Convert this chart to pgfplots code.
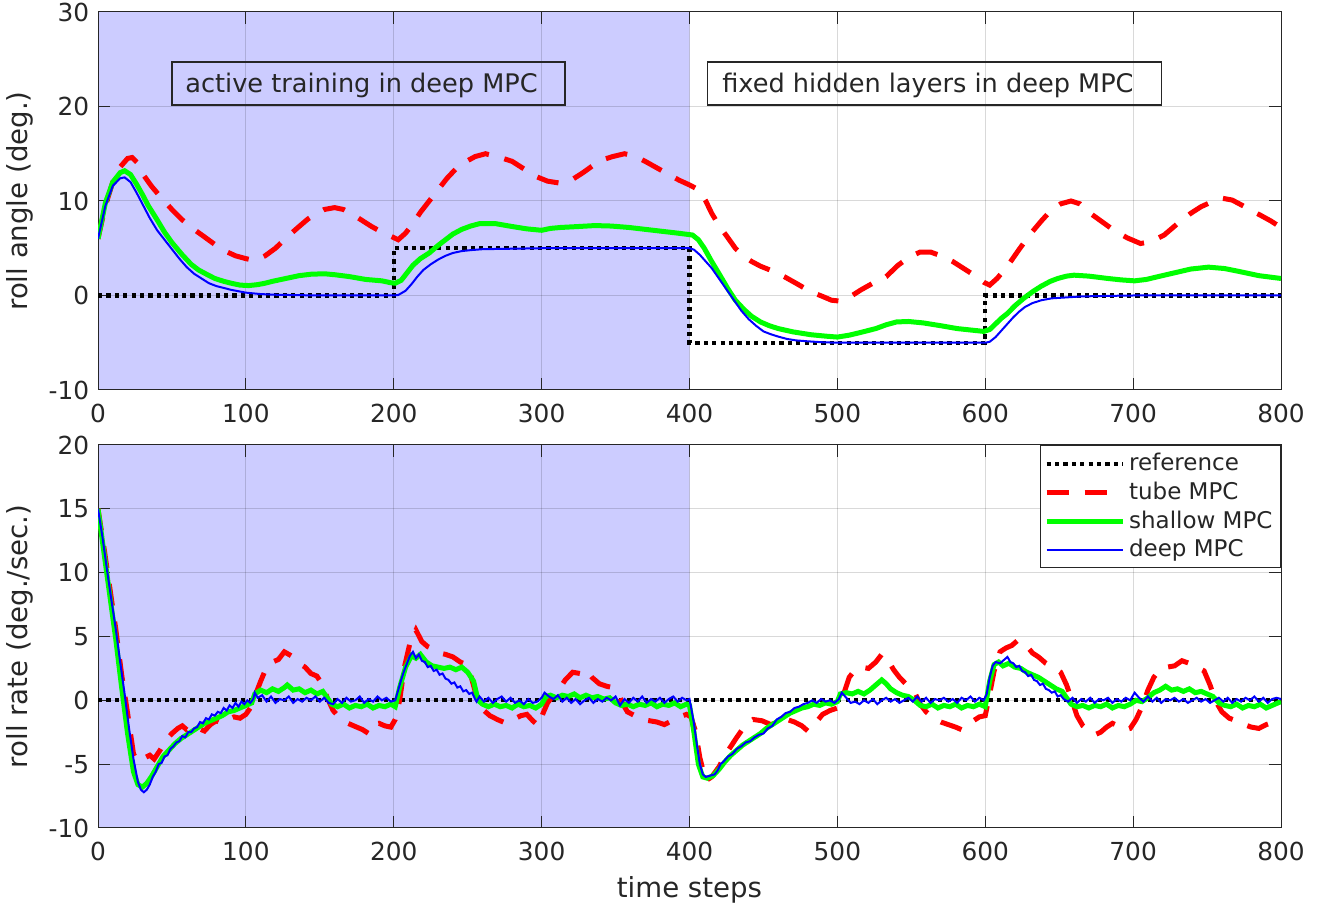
\documentclass[border=0pt]{standalone}
\usepackage{fontspec}
\setmainfont{DejaVu Sans}
\usepackage{pgfplots}
\pgfplotsset{compat=1.18}
\definecolor{axgray}{RGB}{38,38,38}
\definecolor{shadeblue}{RGB}{204,204,255}
\newcommand{\ticksz}{\fontsize{12.4}{14}\selectfont}
\newcommand{\labsz}{\fontsize{13.8}{16}\selectfont}
\newcommand{\boxsz}{\fontsize{12.8}{15}\selectfont}
\newcommand{\legsz}{\fontsize{11.5}{13}\selectfont}

\pgfplotsset{
  mpc/.style={
    set layers=standard,
    scale only axis,
    width=591.5pt,
    xmin=0, xmax=800,
    xtick={0,100,...,800},
    tick pos=both, tick align=inside,
    grid=major,
    major grid style={black, opacity=0.15, line width=0.5pt},
    axis line style={axgray, line width=0.5pt},
    every tick/.style={axgray, line width=0.5pt},
    major tick length=6pt,
    tick label style={font=\ticksz, text=axgray},
    xticklabel style={yshift=-3.4pt},
    yticklabel style={xshift=-0.9pt},
    label style={font=\labsz, text=axgray, inner sep=0pt},
    ylabel style={at={(axis description cs:-0.054,0.5)}, anchor=south},
    /pgf/number format/assume math mode=true,
  },
  refline/.style={black, line width=2.1pt, dash pattern=on 2.1pt off 2.1pt},
  tubeline/.style={red, line width=2.5pt, dash pattern=on 11pt off 8pt},
  shallowline/.style={green, line width=2.5pt},
  deepline/.style={blue, line width=1pt},
}

\begin{document}
\begin{tikzpicture}

% ---------------- roll angle ----------------
\begin{axis}[mpc,
  at={(0pt,0pt)}, anchor=south west,
  height=189pt,
  ymin=-10, ymax=30, ytick={-10,0,...,30},
  ylabel={roll angle (deg.)},
]
\addplot[fill=shadeblue, draw=none, forget plot, on layer=axis background]
  coordinates {(0,-10) (400,-10) (400,30) (0,30)} \closedcycle;

\addplot[refline] coordinates {
  (0,0) (200,0) (200,5) (400,5) (400,-5) (600,-5) (600,0) (800,0)};

\addplot[tubeline] coordinates {
  (0,6) (5,9.5) (10,12.0) (15,13.6) (20,14.5) (23,14.6) (27,14.0) (31,12.7)
  (36,11.6) (43,10.3) (50,9.1) (57,8.0) (64,7.1) (72,6.2) (79,5.4) (86,4.7)
  (93,4.2) (100,3.9) (106,3.7) (113,4.2) (120,5.0) (128,6.2) (136,7.3)
  (142,8.1) (147,8.6) (153,9.1) (160,9.3) (166,9.1) (172,8.6) (178,8.0)
  (185,7.3) (192,6.7) (199,6.2) (203,5.9) (208,6.6) (213,7.6) (218,8.8)
  (224,10.0) (230,11.2) (236,12.4) (242,13.4) (248,14.1) (255,14.7)
  (262,15.0) (270,14.7) (280,14.2) (288,13.4) (296,12.6) (304,12.1)
  (312,11.9) (321,12.3) (328,13.0) (336,13.9) (342,14.4) (348,14.7)
  (356,15.0) (362,14.8) (370,14.2) (378,13.5) (386,12.8) (393,12.2)
  (400,11.7) (406,11.2) (411,10.0) (415,8.7) (420,7.4) (426,6.1) (431,5.0)
  (437,4.1) (442,3.6) (448,3.1) (456,2.6) (464,2.0) (472,1.3) (482,0.4)
  (490,-0.1) (496,-0.5) (502,-0.6) (508,-0.2) (516,0.6) (524,1.3) (533,2.0)
  (541,3.2) (549,4.1) (556,4.6) (563,4.6) (570,4.2) (578,3.6) (586,2.8)
  (594,2.0) (599,1.4) (603,1.1) (608,1.8) (615,3.1) (623,4.9) (631,6.6)
  (638,7.9) (645,9.1) (651,9.7) (658,10.0) (664,9.7) (671,8.7) (679,7.8)
  (687,6.9) (696,6.1) (705,5.5) (712,5.7) (721,6.4) (730,7.6) (739,8.7)
  (746,9.4) (753,9.9) (760,10.3) (767,10.1) (773,9.6) (780,9.0) (786,8.5)
  (793,7.9) (800,7.2)};

\addplot[shallowline] coordinates {
  (0,6) (5,9.8) (10,12.0) (15,13.0) (18,13.2) (22,12.8) (26,11.8) (30,10.7)
  (34,9.5) (40,8.0) (45,6.7) (50,5.6) (57,4.3) (63,3.3) (68,2.7) (74,2.2)
  (79,1.8) (85,1.5) (90,1.3) (96,1.1) (102,1.05) (108,1.15) (113,1.3)
  (118,1.5) (124,1.7) (130,1.9) (136,2.1) (144,2.25) (153,2.3) (160,2.2)
  (170,2.0) (181,1.7) (192,1.55) (198,1.35) (201,1.3) (205,1.6) (209,2.4)
  (213,3.2) (218,3.9) (224,4.5) (230,5.3) (235,5.9) (240,6.5) (246,7.0)
  (252,7.35) (258,7.6) (269,7.6) (280,7.3) (290,7.05) (300,6.9) (306,7.1)
  (313,7.2) (325,7.3) (336,7.4) (347,7.35) (359,7.2) (370,7.0) (381,6.8)
  (392,6.6) (402,6.4) (406,5.9) (410,5.0) (415,3.6) (420,2.3) (426,0.7)
  (431,-0.5) (437,-1.5) (442,-2.2) (448,-2.8) (454,-3.2) (460,-3.5)
  (470,-3.85) (482,-4.15) (492,-4.3) (500,-4.4) (508,-4.2) (516,-3.9)
  (526,-3.5) (533,-3.1) (540,-2.8) (548,-2.75) (558,-2.9) (570,-3.2)
  (581,-3.5) (590,-3.65) (599,-3.8) (603,-3.6) (607,-3.0) (611,-2.4)
  (615,-1.9) (620,-1.1) (626,-0.3) (632,0.4) (638,1.0) (644,1.5) (649,1.8)
  (655,2.05) (660,2.15) (670,2.05) (683,1.8) (692,1.65) (701,1.55)
  (709,1.7) (717,2.0) (728,2.4) (739,2.8) (751,3.0) (762,2.85) (773,2.5)
  (785,2.1) (800,1.8)};

\addplot[deepline] coordinates {
  (0,6) (5,9.5) (10,11.6) (15,12.4) (18,12.5) (22,12.0) (26,10.9) (30,9.7)
  (35,8.2) (40,6.9) (45,5.9) (50,4.9) (55,3.9) (60,3.0) (65,2.3) (70,1.8)
  (75,1.3) (80,1.0) (85,0.8) (90,0.6) (95,0.45) (100,0.3) (110,0.15)
  (120,0.08) (130,0.05) (150,0.0) (200,0.0) (203,0.05) (208,0.5) (212,1.2)
  (216,2.0) (220,2.7) (225,3.3) (230,3.8) (235,4.2) (240,4.5) (246,4.7)
  (252,4.8) (260,4.9) (280,4.95) (300,5.0) (400,5.0) (403,4.85) (407,4.3)
  (411,3.6) (415,2.9) (419,2.0) (423,1.1) (427,0.2) (431,-0.7) (435,-1.6)
  (440,-2.5) (445,-3.2) (450,-3.8) (455,-4.1) (460,-4.35) (466,-4.6)
  (472,-4.75) (480,-4.85) (490,-4.95) (500,-5.0) (600,-5.0) (603,-4.9)
  (607,-4.4) (611,-3.7) (615,-3.0) (619,-2.3) (623,-1.7) (627,-1.2)
  (632,-0.8) (638,-0.5) (645,-0.3) (655,-0.2) (665,-0.1) (680,-0.05)
  (700,0) (800,0)};

\draw[axgray, line width=0.6pt] (axis cs:50,20.16) rectangle (axis cs:315.8,24.7);
\node[anchor=base west, inner sep=0pt, font=\boxsz, text=axgray]
  at (axis cs:58.8,21.43) {active training in deep MPC};
\draw[axgray, line width=0.6pt] (axis cs:412.4,20.16) rectangle (axis cs:719.4,24.7);
\node[anchor=base west, inner sep=0pt, font=\boxsz, text=axgray]
  at (axis cs:421.9,21.43) {fixed hidden layers in deep MPC};
\end{axis}

% ---------------- roll rate ----------------
\begin{axis}[mpc,
  at={(0pt,-27.5pt)}, anchor=north west,
  height=191.5pt,
  ymin=-10, ymax=20, ytick={-10,-5,...,20},
  ylabel={roll rate (deg./sec.)},
  xlabel={time steps},
  xlabel style={at={(axis description cs:0.5,0)}, anchor=north, yshift=-24pt},
  legend style={at={(1,1)}, anchor=north east, draw=axgray, line width=0.5pt,
    fill=white, font=\legsz, text=axgray, inner xsep=2pt, inner ysep=2pt,
    row sep=0.1pt, cells={anchor=west}},
  legend image code/.code={\draw[#1] (0pt,0pt) -- (38pt,0pt);},
]
\addplot[fill=shadeblue, draw=none, forget plot, on layer=axis background]
  coordinates {(0,-10) (400,-10) (400,20) (0,20)} \closedcycle;

\addplot[refline] coordinates {(0,0) (800,0)};
\addlegendentry{reference}

\addplot[tubeline] coordinates {
  (0,15) (4,12) (8,8.8) (12,5.6) (16,2.0) (20,-1.0) (24,-4.2) (27,-4.8)
  (30,-4.6) (35,-4.3) (38,-4.6) (42,-3.9) (46,-3.1) (50,-2.6) (54,-2.2)
  (57,-2.0) (60,-2.3) (64,-2.0) (68,-2.2) (72,-2.4) (76,-1.9) (80,-1.6)
  (84,-1.8) (88,-1.5) (92,-1.3) (96,-1.4) (100,-1.1) (103,-0.6) (106,0.3)
  (110,1.5) (114,2.6) (118,3.0) (122,3.2) (126,3.8) (129,3.6) (132,3.4)
  (136,2.9) (140,2.6) (144,2.1) (148,1.9) (152,1.2) (155,0.2) (159,-0.8)
  (163,-1.3) (167,-1.7) (171,-1.9) (175,-2.1) (179,-2.3) (183,-2.6)
  (186,-1.9) (190,-1.8) (194,-2.0) (198,-2.1) (201,-1.5) (204,0.0)
  (207,2.5) (211,4.5) (215,5.5) (219,4.6) (223,4.2) (227,4.0) (231,3.7)
  (235,3.6) (240,3.4) (245,3.0) (249,2.8) (252,2.0) (256,0.3) (260,-0.7)
  (265,-1.2) (270,-1.5) (276,-1.8) (281,-1.5) (286,-1.2) (290,-1.1)
  (294,-1.6) (298,-2.0) (301,-1.0) (304,-0.2) (308,0.4) (312,0.9)
  (316,1.6) (321,2.2) (326,2.1) (330,2.4) (334,1.8) (339,1.3) (344,1.1)
  (348,1.0) (352,0.5) (355,-0.3) (358,-0.9) (363,-1.2) (368,-1.5)
  (373,-1.6) (378,-1.7) (383,-1.9) (388,-1.6) (393,-1.3) (398,-1.1)
  (401,-1.3) (404,-2.4) (407,-4.5) (411,-6.3) (415,-6.0) (420,-5.2)
  (424,-4.3) (428,-3.6) (432,-2.9) (438,-1.9) (443,-1.5) (449,-1.6)
  (455,-1.9) (460,-1.7) (466,-1.5) (471,-1.7) (476,-2.0) (480,-2.4)
  (485,-1.8) (490,-1.1) (495,-0.8) (500,-0.6) (504,0.4) (508,1.8)
  (512,2.4) (516,2.6) (521,2.5) (526,3.0) (530,3.6) (534,3.2) (538,2.4)
  (542,1.8) (547,1.2) (552,0.7) (556,-0.3) (560,-0.9) (565,-1.4)
  (570,-1.7) (575,-1.9) (580,-2.1) (584,-2.3) (588,-1.9) (592,-1.6)
  (596,-1.3) (600,-1.2) (603,0.5) (606,2.3) (610,3.8) (614,4.1) (618,4.3)
  (622,4.7) (627,4.4) (632,3.7) (636,3.4) (641,2.9) (646,2.6) (651,2.2)
  (655,1.2) (658,0.2) (662,-1.2) (666,-2.0) (670,-2.4) (674,-2.7)
  (678,-2.5) (682,-2.1) (686,-1.8) (690,-2.0) (694,-2.3) (698,-2.2)
  (702,-1.5) (706,-0.5) (710,0.8) (714,1.8) (718,2.4) (723,2.6) (728,2.7)
  (733,3.1) (738,2.9) (743,2.6) (748,2.3) (752,1.2) (756,-0.1) (760,-0.9)
  (765,-1.4) (770,-1.6) (775,-1.9) (780,-2.1) (785,-2.2) (790,-1.9)
  (795,-1.7) (800,-1.5)};
\addlegendentry{tube MPC}

\addplot[shallowline] coordinates {
  (0,15) (4,11.6) (8,8.2) (12,4.8) (16,1.0) (20,-2.6) (24,-5.6) (27,-6.6)
  (30,-6.8) (33,-6.5) (36,-6.0) (40,-5.2) (44,-4.4) (48,-3.9) (52,-3.4)
  (56,-3.0) (60,-2.7) (64,-2.4) (68,-2.1) (72,-1.8) (76,-1.6) (80,-1.4)
  (84,-1.2) (88,-0.9) (92,-0.8) (96,-0.6) (100,-0.4) (104,-0.2) (106,0.5)
  (110,0.8) (114,0.6) (118,0.9) (122,0.7) (126,1.0) (128,1.2) (132,0.8)
  (136,0.9) (140,0.6) (144,0.8) (148,0.5) (152,0.7) (155,0.2) (158,-0.3)
  (162,-0.5) (166,-0.3) (170,-0.6) (174,-0.4) (178,-0.5) (182,-0.3)
  (186,-0.6) (190,-0.4) (194,-0.5) (198,-0.3) (201,-0.5) (204,1.0)
  (208,2.6) (212,3.5) (215,3.3) (218,3.6) (222,3.0) (226,2.7) (230,2.6)
  (234,2.5) (238,2.6) (242,2.4) (246,2.6) (250,2.2) (254,1.5) (257,0.0)
  (260,-0.3) (264,-0.5) (268,-0.3) (272,-0.5) (276,-0.4) (280,-0.6)
  (284,-0.3) (288,-0.5) (292,-0.4) (296,-0.6) (300,-0.3) (303,0.3)
  (306,0.4) (310,0.2) (314,0.4) (318,0.3) (322,0.5) (326,0.2) (330,0.4)
  (334,0.2) (338,0.3) (342,0.1) (346,0.2) (350,-0.2) (354,-0.4) (358,-0.3)
  (362,-0.5) (366,-0.3) (370,-0.4) (374,-0.2) (378,-0.5) (382,-0.3)
  (386,-0.4) (390,-0.2) (394,-0.5) (398,-0.3) (400,-0.4) (403,-2.5)
  (406,-5.0) (409,-6.0) (412,-6.1) (416,-5.9) (420,-5.4) (424,-4.8)
  (428,-4.3) (432,-3.9) (436,-3.5) (440,-3.2) (444,-2.9) (448,-2.6)
  (452,-2.2) (456,-1.9) (460,-1.6) (464,-1.3) (468,-1.0) (472,-0.8)
  (476,-0.6) (480,-0.5) (484,-0.3) (488,-0.4) (492,-0.2) (496,-0.3)
  (500,-0.1) (502,0.5) (506,0.6) (510,0.5) (514,0.7) (518,0.5) (522,0.8)
  (526,1.2) (530,1.6) (533,1.3) (536,0.9) (540,0.6) (544,0.4) (548,0.3)
  (552,0.0) (556,-0.4) (560,-0.5) (564,-0.3) (568,-0.6) (572,-0.4)
  (576,-0.5) (580,-0.3) (584,-0.6) (588,-0.4) (592,-0.5) (596,-0.3)
  (600,-0.5) (603,1.5) (606,2.8) (609,3.0) (612,2.7) (616,2.9) (620,2.6)
  (624,2.5) (628,2.2) (632,2.0) (636,1.8) (640,1.5) (644,1.2) (648,0.9)
  (652,0.7) (655,0.2) (658,-0.3) (662,-0.5) (666,-0.4) (670,-0.6)
  (674,-0.4) (678,-0.5) (682,-0.3) (686,-0.6) (690,-0.4) (694,-0.5)
  (698,-0.3) (702,0.0) (706,-0.1) (710,0.2) (714,0.6) (718,0.8) (722,1.1)
  (726,0.8) (730,0.9) (734,0.7) (738,0.9) (742,0.6) (746,0.7) (750,0.5)
  (754,0.3) (758,-0.2) (762,-0.4) (766,-0.5) (770,-0.3) (774,-0.6)
  (778,-0.4) (782,-0.5) (786,-0.3) (790,-0.6) (794,-0.4) (798,-0.2)
  (800,-0.1)};
\addlegendentry{shallow MPC}

\addplot[deepline] coordinates {
  (0,15) (3,12.8) (6,10.3) (9,7.9) (12,5.6) (15,3.0) (18,0.5) (21,-2.2)
  (24,-4.6) (27,-6.4) (29,-7.0) (31,-7.2) (33,-7.0) (35,-6.6) (37,-6.0)
  (39,-5.6) (41,-5.0) (43,-4.9) (45,-4.4) (47,-4.3) (49,-3.8) (51,-3.6)
  (53,-3.3) (55,-3.2) (57,-2.8) (59,-2.9) (61,-2.5) (63,-2.5) (65,-2.2)
  (67,-2.1) (69,-1.7) (71,-1.8) (73,-1.4) (75,-1.5) (77,-1.1) (79,-1.2)
  (81,-0.9) (83,-1.0) (85,-0.6) (87,-0.8) (89,-0.4) (91,-0.6) (93,-0.2)
  (95,-0.5) (97,-0.1) (99,-0.3) (101,0.0) (103,-0.2) (105,0.1) (106,0.6)
  (108,0.2) (111,0.4) (114,-0.1) (117,0.3) (120,-0.2) (123,0.1) (126,0.0)
  (129,0.3) (132,-0.2) (135,0.1) (138,-0.1) (141,0.2) (144,0.0) (147,0.3)
  (150,-0.1) (153,0.2) (156,-0.2) (159,-0.3) (162,0.1) (165,-0.2)
  (168,0.2) (171,-0.1) (174,0.0) (177,0.3) (180,-0.2) (183,0.1) (186,-0.1)
  (189,0.3) (192,0.0) (195,0.2) (198,-0.1) (201,0.0) (203,0.8) (205,1.6)
  (207,2.3) (209,2.9) (211,3.5) (213,3.8) (215,3.3) (217,3.6) (219,3.1)
  (221,3.0) (223,2.6) (225,2.7) (227,2.3) (229,2.4) (231,2.0) (233,2.1)
  (235,1.7) (237,1.6) (239,1.3) (241,1.4) (243,1.0) (245,1.1) (247,0.7)
  (249,0.8) (251,0.5) (253,0.6) (255,0.1) (256,-0.1) (258,0.3) (261,-0.1)
  (264,0.2) (267,-0.2) (270,0.1) (273,0.3) (276,-0.1) (279,0.2) (282,-0.2)
  (285,0.0) (288,-0.3) (291,0.1) (294,-0.2) (297,-0.1) (300,0.2) (302,0.6)
  (305,0.3) (308,0.1) (311,0.4) (314,-0.1) (317,0.2) (320,-0.2) (323,0.1)
  (326,-0.3) (329,0.0) (332,0.2) (335,-0.2) (338,0.1) (341,-0.1) (344,0.2)
  (347,0.0) (350,0.3) (353,-0.4) (356,0.1) (359,-0.2) (362,0.2) (365,-0.1)
  (368,0.3) (371,-0.2) (374,0.1) (377,-0.1) (380,0.2) (383,-0.2) (386,0.1)
  (389,0.3) (392,-0.1) (395,0.2) (398,0.0) (400,0.1) (401,-0.5) (403,-1.8)
  (405,-3.5) (407,-5.0) (409,-5.8) (411,-6.0) (414,-5.9) (417,-5.8)
  (419,-5.5) (421,-5.0) (423,-4.8) (426,-4.4) (429,-4.2) (432,-3.8)
  (435,-3.6) (438,-3.3) (441,-3.2) (444,-2.9) (447,-2.7) (450,-2.6)
  (453,-2.2) (456,-2.0) (459,-1.5) (462,-1.3) (465,-1.0) (468,-0.9)
  (471,-0.6) (474,-0.5) (477,-0.3) (480,-0.2) (483,0.0) (486,-0.2)
  (489,0.1) (492,-0.1) (495,0.0) (498,-0.2) (501,0.1) (503,0.6) (506,0.2)
  (509,-0.2) (512,-0.1) (515,-0.3) (518,0.0) (521,-0.2) (524,0.1)
  (527,-0.3) (530,0.0) (533,0.2) (536,-0.1) (539,0.1) (542,-0.2) (545,0.0)
  (548,0.2) (551,-0.1) (554,0.3) (557,-0.1) (560,0.2) (563,-0.2) (566,0.1)
  (569,0.0) (572,0.2) (575,-0.1) (578,0.1) (581,-0.2) (584,0.2) (587,0.0)
  (590,0.3) (593,-0.1) (596,0.2) (599,0.0) (601,0.5) (603,1.8) (605,2.7)
  (607,3.0) (610,2.9) (613,3.2) (615,3.4) (617,3.0) (619,2.9) (621,2.6)
  (623,2.7) (625,2.3) (627,2.2) (629,1.9) (631,2.0) (633,1.6) (635,1.5)
  (637,1.2) (639,1.3) (641,0.9) (643,0.8) (645,0.6) (647,0.7) (649,0.3)
  (651,0.4) (653,0.1) (656,-0.1) (659,0.2) (662,-0.2) (665,0.1) (668,-0.1)
  (671,0.2) (674,-0.2) (677,0.1) (680,0.0) (683,0.2) (686,-0.2) (689,0.1)
  (692,-0.1) (695,0.2) (698,0.0) (701,0.6) (704,0.2) (707,-0.1) (710,0.3)
  (713,-0.1) (716,0.2) (719,-0.2) (722,0.1) (725,0.0) (728,0.2) (731,-0.1)
  (734,0.1) (737,-0.2) (740,0.0) (743,0.2) (746,-0.1) (749,0.1) (752,-0.2)
  (755,0.0) (758,0.2) (761,-0.1) (764,0.2) (767,-0.2) (770,0.1) (773,-0.1)
  (776,0.2) (779,0.0) (782,0.3) (785,-0.1) (788,0.2) (791,-0.2) (794,0.1)
  (797,0.2) (800,0.1)};
\addlegendentry{deep MPC}
\end{axis}

\pgfresetboundingbox
\path[use as bounding box] (-49pt,-259pt) rectangle (613.5pt,195pt);
\end{tikzpicture}
\end{document}
